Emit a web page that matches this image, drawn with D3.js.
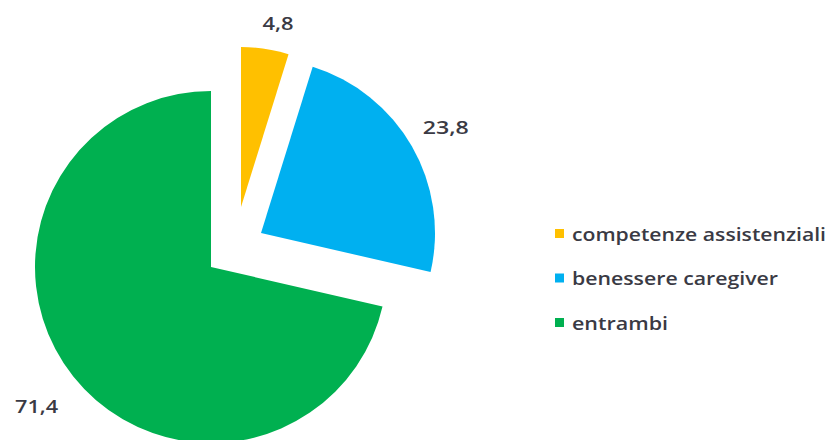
<!DOCTYPE html>
<html>
<head>
<meta charset="utf-8">
<script src="https://cdn.jsdelivr.net/npm/d3@7/dist/d3.min.js"></script>
<style>
  html, body { margin: 0; padding: 0; background: #fff; }
  svg { display: block; }
  text { font-family: "Open Sans", "DejaVu Sans", sans-serif; font-weight: 600; fill: #3a3a44; }
</style>
</head>
<body>
<svg id="chart" width="831" height="440"></svg>
<script>
// Data
const categories = ["competenze assistenziali", "benessere caregiver", "entrambi"];
const values = [4.8, 23.8, 71.4];
const valueLabels = ["4,8", "23,8", "71,4"];
const colors = ["#FFC000", "#00B0F0", "#00B050"];

// Layout
const W = 831, H = 440;
const center = { x: 211, y: 267 };
// per-slice explosion offsets and radii
const sliceLayout = [
  { dx: 30, dy: -60, r: 160, labelR: 186, ldx: 9, textLen: 31 },
  { dx: 50, dy: -34, r: 174, labelR: 213, ldx: 0, textLen: 46 },
  { dx: 0,  dy: 0,   r: 176, labelR: 223, ldx: 0, textLen: 43 }
];
const legendLayout = { x: 555, y0: 233.5, step: 44.5, size: 9, textX: 572, textLen: [254, 206, 96] };

const svg = d3.select("#chart");

const pie = d3.pie().sort(null).value(d => d)
  .startAngle(0).endAngle(2 * Math.PI);
const arcs = pie(values);

const g = svg.append("g").attr("transform", `translate(${center.x},${center.y})`);

const slices = g.selectAll("g.slice").data(arcs).enter().append("g")
  .attr("class", "slice")
  .attr("transform", (d, i) => `translate(${sliceLayout[i].dx},${sliceLayout[i].dy})`);

slices.append("path")
  .attr("d", (d, i) => d3.arc().innerRadius(0).outerRadius(sliceLayout[i].r)(d))
  .attr("fill", (d, i) => colors[i]);

// value labels placed outside each slice along its mid-angle
slices.append("text")
  .attr("transform", (d, i) => {
    const L = sliceLayout[i];
    const c = d3.arc().innerRadius(L.labelR).outerRadius(L.labelR).centroid(d);
    return `translate(${c[0] + L.ldx},${c[1]})`;
  })
  .attr("text-anchor", "middle")
  .attr("dominant-baseline", "central")
  .attr("font-size", 17.5)
  .attr("textLength", (d, i) => sliceLayout[i].textLen)
  .attr("lengthAdjust", "spacingAndGlyphs")
  .text((d, i) => valueLabels[i]);

// Legend
const legend = svg.append("g");
const items = legend.selectAll("g").data(categories).enter().append("g")
  .attr("transform", (d, i) => `translate(0,${legendLayout.y0 + i * legendLayout.step})`);

items.append("rect")
  .attr("x", legendLayout.x)
  .attr("y", -legendLayout.size / 2)
  .attr("width", legendLayout.size)
  .attr("height", legendLayout.size)
  .attr("fill", (d, i) => colors[i]);

items.append("text")
  .attr("x", legendLayout.textX)
  .attr("y", 0)
  .attr("dominant-baseline", "central")
  .attr("font-size", 18)
  .attr("textLength", (d, i) => legendLayout.textLen[i])
  .attr("lengthAdjust", "spacingAndGlyphs")
  .text(d => d);
</script>
</body>
</html>
